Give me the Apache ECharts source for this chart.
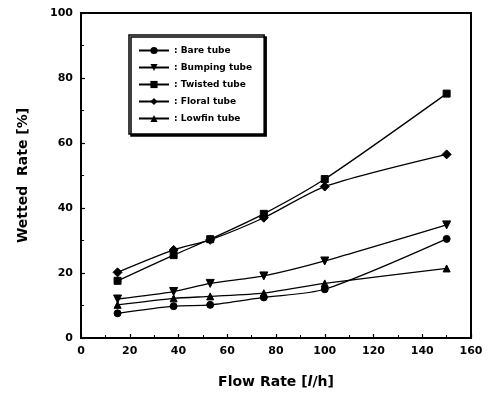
<!DOCTYPE html>
<html><head><meta charset="utf-8">
<script src="https://cdn.jsdelivr.net/npm/echarts@6/dist/echarts.min.js"></script>
<style>html,body{margin:0;padding:0;background:#fff}#c{width:489px;height:394px}</style>
</head><body><div id="c"></div>
<script>
const flowRates = [15, 38, 53, 75, 100, 150];
const bareTube = [7.6, 9.8, 10.2, 12.5, 15.0, 30.5];
const bumpingTube = [12.0, 14.3, 16.8, 19.1, 23.7, 34.8];
const twistedTube = [17.6, 25.5, 30.4, 38.2, 48.9, 75.2];
const floralTube = [20.2, 27.1, 30.2, 37.0, 46.6, 56.5];
const lowfinTube = [10.2, 12.2, 12.8, 13.8, 16.8, 21.4];
const seriesNames = ['Bare tube', 'Bumping tube', 'Twisted tube', 'Floral tube', 'Lowfin tube'];
const seriesData = [bareTube, bumpingTube, twistedTube, floralTube, lowfinTube];
const symbols = ['circle', 'triangle', 'rect', 'diamond', 'triangle'];
const symbolRotate = [0, 180, 0, 0, 0];
const symbolSizes = [7, 8, 7, 9, 7];

const font = 'DejaVu Sans, Liberation Sans, sans-serif';
const chart = echarts.init(document.getElementById('c'));
chart.setOption({
  animation: false,
  backgroundColor: '#fff',
  grid: { left: 81, right: 18, top: 13, bottom: 56 },
  legend: {
    orient: 'vertical',
    left: 129, top: 35,
    padding: [11, 12, 11, 9],
    itemGap: 8,
    itemWidth: 30, itemHeight: 9,
    borderColor: '#000', borderWidth: 1.5,
    shadowColor: '#000', shadowOffsetX: 2, shadowOffsetY: 2, shadowBlur: 0,
    backgroundColor: '#fff',
    formatter: n => ': ' + n,
    textStyle: { fontFamily: font, fontWeight: 'bold', fontSize: 9, color: '#000' },
    data: seriesNames
  },
  xAxis: {
    type: 'value', min: 0, max: 160, interval: 20,
    name: 'Flow Rate [{i|l}/h]',
    nameLocation: 'middle', nameGap: 37,
    nameTextStyle: { fontFamily: font, fontWeight: 'bold', fontSize: 14, color: '#000',
      rich: { i: { fontFamily: font, fontStyle: 'italic', fontWeight: 'bold', fontSize: 14, color: '#000' } } },
    axisLine: { onZero: false, lineStyle: { color: '#000', width: 2 } },
    axisTick: { inside: true, length: 4, lineStyle: { color: '#000', width: 1.2 } },
    minorTick: { show: true, splitNumber: 2, length: 3, lineStyle: { color: '#000' } },
    axisLabel: { fontFamily: font, fontWeight: 'bold', fontSize: 11, color: '#000', margin: 8 },
    splitLine: { show: false }
  },
  yAxis: {
    type: 'value', min: 0, max: 100, interval: 20,
    name: 'Wetted  Rate [%]',
    nameLocation: 'middle', nameGap: 51, nameRotate: 90,
    nameTextStyle: { fontFamily: font, fontWeight: 'bold', fontSize: 14, color: '#000' },
    axisLine: { lineStyle: { color: '#000', width: 2 } },
    axisTick: { inside: true, length: 4, lineStyle: { color: '#000', width: 1.2 } },
    minorTick: { show: true, splitNumber: 2, length: 3, lineStyle: { color: '#000' } },
    axisLabel: { fontFamily: font, fontWeight: 'bold', fontSize: 11, color: '#000', margin: 8 },
    splitLine: { show: false }
  },
  graphic: [{
    type: 'rect', shape: { x: 81, y: 13, width: 390, height: 325 },
    style: { fill: 'none', stroke: '#000', lineWidth: 2 }, silent: true, z: 10
  }],
  series: seriesNames.map((n, i) => ({
    name: n, type: 'line', smooth: 0.25,
    data: flowRates.map((x, j) => [x, seriesData[i][j]]),
    symbol: symbols[i], symbolRotate: symbolRotate[i], symbolSize: symbolSizes[i],
    showAllSymbol: true,
    lineStyle: { color: '#000', width: 1.3 },
    itemStyle: { color: '#000', borderColor: '#000' }
  }))
});
</script></body></html>
